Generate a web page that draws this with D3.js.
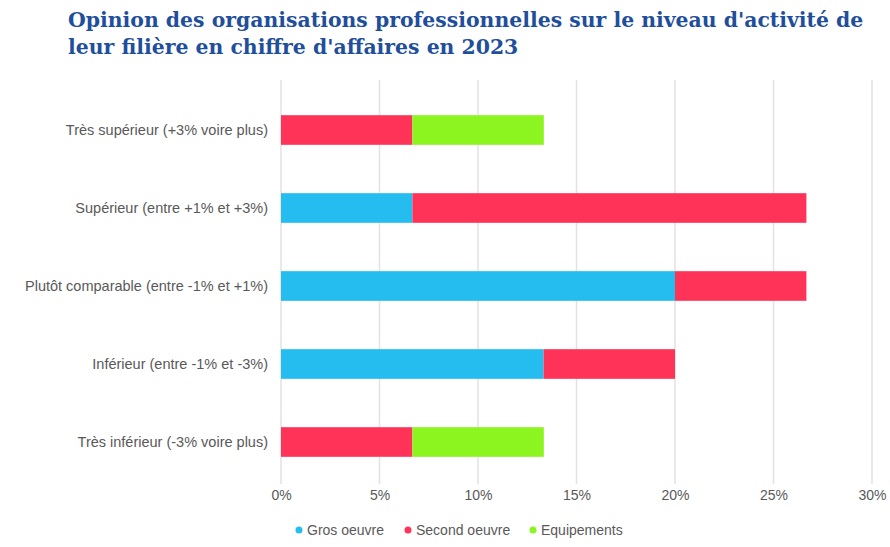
<!DOCTYPE html>
<html lang="fr">
<head>
<meta charset="utf-8">
<script src="https://cdn.jsdelivr.net/npm/d3@7/dist/d3.min.js"></script>
<style>
  html, body { margin: 0; padding: 0; background: #ffffff; }
  svg { display: block; }
</style>
</head>
<body>
<svg id="chart" width="890" height="547"></svg>
<script>
// Catégories (de haut en bas)
const categories = [
  "Très supérieur (+3% voire plus)",
  "Supérieur (entre +1% et +3%)",
  "Plutôt comparable (entre -1% et +1%)",
  "Inférieur (entre -1% et -3%)",
  "Très inférieur (-3% voire plus)"
];
// Séries, en % des organisations
const seriesNames = ["Gros oeuvre", "Second oeuvre", "Equipements"];
const grosOeuvre   = [0,    6.67, 20,   13.33, 0];
const secondOeuvre = [6.67, 20,   6.67, 6.67,  6.67];
const equipements  = [6.67, 0,    0,    0,     6.67];
const tickValues = [0, 5, 10, 15, 20, 25, 30];
const seriesColors = ["#25bdf0", "#ff3358", "#8cf520"];

const svg = d3.select("#chart");
const margin = { left: 281, top: 91 };

const rows = categories.map((c, i) => ({
  category: c,
  "Gros oeuvre": grosOeuvre[i],
  "Second oeuvre": secondOeuvre[i],
  "Equipements": equipements[i]
}));
const stacked = d3.stack().keys(seriesNames)(rows);

const x = d3.scaleLinear().domain([0, 30]).range([margin.left, 872]);
const y = d3.scaleBand().domain(categories).range([margin.top, 481]).paddingInner(0.62).paddingOuter(0.31);
const color = d3.scaleOrdinal().domain(seriesNames).range(seriesColors);

const sans = "'Liberation Sans', Arial, sans-serif";

// Titre
const title = svg.append("text")
  .attr("x", 68).attr("y", 27)
  .attr("font-family", "'DejaVu Serif', 'Liberation Serif', serif")
  .attr("font-weight", "bold")
  .attr("font-size", 20.4)
  .attr("fill", "#1f4f9c");
title.append("tspan").attr("x", 68).attr("dy", 0)
  .text("Opinion des organisations professionnelles sur le niveau d'activité de");
title.append("tspan").attr("x", 68).attr("dy", 27)
  .text("leur filière en chiffre d'affaires en 2023");

// Quadrillage vertical
svg.append("g")
  .selectAll("line")
  .data(tickValues)
  .join("line")
  .attr("x1", d => x(d)).attr("x2", d => x(d))
  .attr("y1", 80).attr("y2", 484)
  .attr("stroke", "#e2e2e2")
  .attr("stroke-width", 1.5);

// Barres empilées
svg.append("g")
  .selectAll("g")
  .data(stacked)
  .join("g")
  .attr("fill", d => color(d.key))
  .selectAll("rect")
  .data(d => d)
  .join("rect")
  .attr("x", d => x(d[0]))
  .attr("y", d => y(d.data.category))
  .attr("width", d => x(d[1]) - x(d[0]))
  .attr("height", y.bandwidth());

// Axe des abscisses
const xAxis = svg.append("g")
  .attr("transform", `translate(0, ${486})`)
  .call(d3.axisBottom(x).tickValues(tickValues).tickFormat(d => d + "%").tickSize(0).tickPadding(4));
xAxis.select(".domain").remove();
xAxis.selectAll("text")
  .attr("font-family", sans)
  .attr("font-size", 14)
  .attr("fill", "#595959");

// Axe des catégories
const yAxis = svg.append("g")
  .attr("transform", `translate(${margin.left}, 0)`)
  .call(d3.axisLeft(y).tickSize(0).tickPadding(13));
yAxis.select(".domain").remove();
yAxis.selectAll("text")
  .attr("font-family", sans)
  .attr("font-size", 14.5)
  .attr("fill", "#595959");

// Légende
const legendX = [299, 408, 533];
const legend = svg.append("g")
  .selectAll("g")
  .data(seriesNames)
  .join("g")
  .attr("transform", (d, i) => `translate(${legendX[i]}, 530)`);
legend.append("circle")
  .attr("r", 3.5)
  .attr("cx", 0).attr("cy", 0)
  .attr("fill", d => color(d));
legend.append("text")
  .attr("x", 8).attr("y", 5)
  .attr("font-family", sans)
  .attr("font-size", 14)
  .attr("fill", "#595959")
  .text(d => d);
</script>
</body>
</html>
